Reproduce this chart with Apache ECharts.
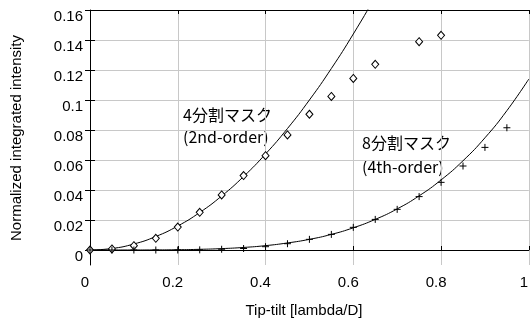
<!DOCTYPE html>
<html>
<head>
<meta charset="utf-8">
<script src="https://cdn.jsdelivr.net/npm/echarts@6/dist/echarts.min.js"></script>
<style>
  html, body { margin: 0; padding: 0; background: #fff; }
  #chart { width: 531px; height: 320px; }
</style>
</head>
<body>
<div id="chart"></div>
<script>
// ---- data ----
const tiltX = [0, 0.05, 0.1, 0.15, 0.2, 0.25, 0.3, 0.35, 0.4, 0.45, 0.5, 0.55, 0.6, 0.65, 0.7, 0.75, 0.8, 0.85, 0.9, 0.95];
// 4-quadrant mask measurements (diamonds); null = no point drawn
const quadMask = [0, 0.0007, 0.0029, 0.0078, 0.0153, 0.0251, 0.0367, 0.0496, 0.0629, 0.0767, 0.0905, 0.1024, 0.1144, 0.1238, null, 0.1389, 0.1431, null, null, null];
// 8-octant mask measurements (plus signs)
const octMask = [0, 0, 0, 0, 0, 0.0001, 0.0005, 0.001, 0.0022, 0.0042, 0.0071, 0.0104, 0.0151, 0.0204, 0.0271, 0.0356, 0.0451, 0.056, 0.0684, 0.0815];
// fitted curves
const curveX = [0, 0.05, 0.1, 0.15, 0.2, 0.25, 0.3, 0.35, 0.4, 0.45, 0.5, 0.55, 0.6, 0.65, 0.7, 0.75, 0.8, 0.85, 0.9, 0.95, 1.0];
const fit2nd = [0, 0.001, 0.004, 0.009, 0.016, 0.025, 0.036, 0.049, 0.064, 0.081, 0.1, 0.121, 0.144, 0.169, 0.196, null, null, null, null, null, null];
const fit4th = [0, 0.000001, 0.00001, 0.00006, 0.00018, 0.00045, 0.00092, 0.0017, 0.0029, 0.0047, 0.0071, 0.0104, 0.0148, 0.0204, 0.0274, 0.0361, 0.0467, 0.0595, 0.0748, 0.0929, 0.114];
const yTicks = [0, 0.02, 0.04, 0.06, 0.08, 0.1, 0.12, 0.14, 0.16];
const xTitle = 'Tip-tilt [lambda/D]';
const yTitle = 'Normalized integrated intensity';
const notes = ['4分割マスク', '(2nd-order)', '8分割マスク', '(4th-order)'];

function pairs(xs, ys) {
  const out = [];
  xs.forEach((x, i) => { if (ys[i] !== null && ys[i] !== undefined) out.push([x, ys[i]]); });
  return out;
}

const LATIN = '"Liberation Sans", Arial, sans-serif';
const CJK = '"Noto Sans CJK JP", sans-serif';

const chart = echarts.init(document.getElementById('chart'), null, { renderer: 'canvas' });
chart.setOption({
  animation: false,
  backgroundColor: '#fff',
  grid: { left: 90, top: 10, right: -1, bottom: 55, containLabel: false },
  xAxis: [{
    type: 'value', min: 0, max: 1, interval: 0.2,
    axisLine: { show: true, lineStyle: { color: '#000', width: 1 } },
    axisTick: { show: true, inside: true, length: 4, lineStyle: { color: '#000' } },
    axisLabel: { color: '#000', fontFamily: LATIN, fontSize: 15, margin: 10, padding: [0, 10, 0, 0] },
    splitLine: { show: true, lineStyle: { color: '#c8c8c8', width: 1 } }
  }, {
    type: 'value', min: 0, max: 1, interval: 0.2, position: 'top',
    axisLine: { show: true, onZero: false, lineStyle: { color: '#000', width: 1 } },
    axisTick: { show: true, inside: true, length: 4, lineStyle: { color: '#000' } },
    axisLabel: { show: false }, splitLine: { show: false }
  }],
  yAxis: [{
    type: 'value', min: -0.01, max: 0.16,
    axisLine: { show: true, onZero: false, lineStyle: { color: '#000', width: 1 } },
    axisTick: { show: true, inside: true, length: 5, customValues: yTicks, lineStyle: { color: '#000' } },
    axisLabel: {
      color: '#000', fontFamily: LATIN, fontSize: 15, margin: 7,
      customValues: yTicks, verticalAlign: 'top', lineHeight: 13,
      formatter: v => String(parseFloat(Number(v).toFixed(3)))
    },
    splitLine: { show: true, lineStyle: { color: '#c8c8c8', width: 1 } }
  }, {
    type: 'value', min: -0.01, max: 0.16, position: 'right',
    axisLine: { show: false },
    axisTick: { show: true, inside: true, length: 5, customValues: yTicks, lineStyle: { color: '#000' } },
    axisLabel: { show: false, customValues: yTicks }, splitLine: { show: false }
  }],
  series: [{
    type: 'line', name: '2nd-order fit', data: pairs(curveX, fit2nd),
    symbol: 'none', smooth: true, clip: true, silent: true,
    lineStyle: { color: '#000', width: 1 }, z: 2
  }, {
    type: 'line', name: '4th-order fit', data: pairs(curveX, fit4th),
    symbol: 'none', smooth: true, clip: true, silent: true,
    lineStyle: { color: '#000', width: 1 }, z: 2
  }, {
    type: 'scatter', name: '4分割マスク', data: pairs(tiltX, quadMask),
    symbol: 'diamond', symbolSize: [7, 8],
    itemStyle: { color: '#fff', borderColor: '#000', borderWidth: 1, opacity: 1 }, z: 3
  }, {
    type: 'scatter', name: '8分割マスク', data: pairs(tiltX, octMask),
    symbol: 'path://M4,0V8M0,4H8', symbolSize: [7, 7],
    itemStyle: { color: 'none', borderColor: '#000', borderWidth: 1, opacity: 1 }, z: 4
  }],
  graphic: [
    { type: 'text', x: 304, y: 311, style: { text: xTitle, font: '15px ' + LATIN, fill: '#000', align: 'center', verticalAlign: 'middle' } },
    { type: 'text', x: 17, y: 138, rotation: Math.PI / 2, style: { text: yTitle, font: '15px ' + LATIN, fill: '#000', align: 'center', verticalAlign: 'middle' } },
    { type: 'text', x: 183, y: 115, style: { text: notes[0], font: '16px ' + CJK, fill: '#000', align: 'left', verticalAlign: 'middle' } },
    { type: 'text', x: 183, y: 137, style: { text: notes[1], font: '16px ' + CJK, fill: '#000', align: 'left', verticalAlign: 'middle' } },
    { type: 'text', x: 362, y: 143, style: { text: notes[2], font: '16px ' + CJK, fill: '#000', align: 'left', verticalAlign: 'middle' } },
    { type: 'text', x: 362, y: 167, style: { text: notes[3], font: '16px ' + CJK, fill: '#000', align: 'left', verticalAlign: 'middle' } }
  ]
});
</script>
</body>
</html>
